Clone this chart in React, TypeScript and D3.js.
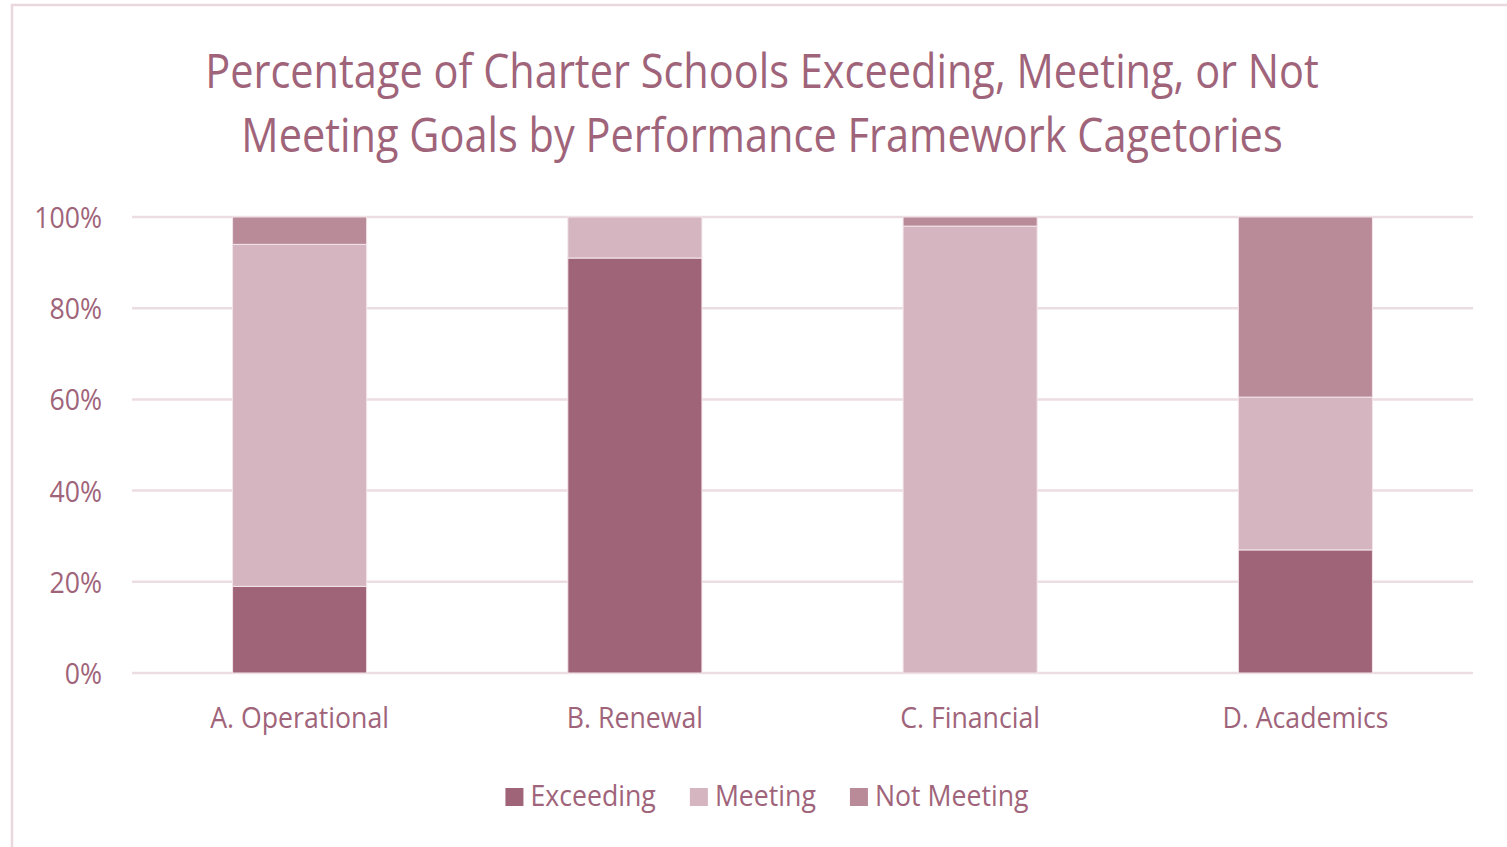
import * as d3 from 'd3';
import React from 'react';

// chart data
const categories = ['A. Operational', 'B. Renewal', 'C. Financial', 'D. Academics'];
const seriesNames = ['Exceeding', 'Meeting', 'Not Meeting'];
const exceeding = [0.19, 0.91, 0, 0.27];
const meeting = [0.75, 0.09, 0.98, 0.335];
const notMeeting = [0.06, 0, 0.02, 0.395];
const yTicks = [0, 0.2, 0.4, 0.6, 0.8, 1];
const titleLines = [
	'Percentage of Charter Schools Exceeding, Meeting, or Not',
	'Meeting Goals by Performance Framework Cagetories',
];

const width = 1507;
const height = 847;
const plot = { left: 132, right: 1473, top: 217, bottom: 673 };
const colors = ['#a06478', '#d5b5bf', '#b98b99'];
const textColor = '#a0647a';
const font = '"Open Sans", sans-serif';
const titleSqueeze = 0.865;
const squeeze = 0.92;

const measure = (txt: string, size: number) => {
	const ctx = document.createElement('canvas').getContext('2d');
	if (!ctx) return txt.length * size * 0.5;
	ctx.font = `${size}px "Open Sans"`;
	return ctx.measureText(txt).width * squeeze;
};

const App = () => {
	const rows = categories.map((c, i) => ({
		category: c,
		Exceeding: exceeding[i],
		Meeting: meeting[i],
		'Not Meeting': notMeeting[i],
	}));
	const stacked = d3.stack<any>().keys(seriesNames)(rows);

	const xScale = d3
		.scaleBand()
		.domain(categories)
		.range([plot.left, plot.right])
		.paddingInner(0.6)
		.paddingOuter(0.3);
	const yScale = d3.scaleLinear().domain([0, 1]).range([plot.bottom, plot.top]);

	// legend layout
	const legendSize = 29;
	const sq = 18;
	const items = seriesNames.map(n => ({ name: n, w: sq + 7 + measure(n, legendSize) }));
	const gap = 34;
	const total = d3.sum(items, d => d.w) + gap * (items.length - 1);
	let cursor = 767 - total / 2;
	const legendItems = items.map(it => {
		const x = cursor;
		cursor += it.w + gap;
		return { ...it, x };
	});

	return (
		<svg
			width={width}
			height={height}
			style={{ position: 'absolute', left: 0, top: 0, background: '#fff' }}
		>
			<rect x={12} y={5} width={width} height={height} fill="#fff" stroke="#ead8df" strokeWidth={2.5} />
			{titleLines.map((t, i) => (
				<text
					key={t}
					transform={`translate(762,${88 + i * 64}) scale(${titleSqueeze},1)`}
					textAnchor="middle"
					fontFamily={font}
					fontSize={48}
					fill={textColor}
				>
					{t}
				</text>
			))}
			{yTicks.map(t => (
				<g key={t}>
					<line
						x1={plot.left}
						x2={plot.right}
						y1={yScale(t)}
						y2={yScale(t)}
						stroke="#ecdde3"
						strokeWidth={2.5}
					/>
					<text
						transform={`translate(102,${yScale(t) + 11}) scale(${squeeze},1)`}
						textAnchor="end"
						fontFamily={font}
						fontSize={29}
						fill={textColor}
					>
						{d3.format('.0%')(t)}
					</text>
				</g>
			))}
			{stacked.map((s, si) => (
				<g key={s.key} fill={colors[si]}>
					{s.map(d => (
						<rect
							key={d.data.category}
							x={xScale(d.data.category)}
							y={yScale(d[1])}
							width={xScale.bandwidth()}
							height={yScale(d[0]) - yScale(d[1])}
							stroke="#f3e6eb"
							strokeWidth={d[1] - d[0] > 0 ? 1 : 0}
						/>
					))}
				</g>
			))}
			{categories.map(c => (
				<text
					key={c}
					transform={`translate(${(xScale(c) || 0) + xScale.bandwidth() / 2},728) scale(${squeeze},1)`}
					textAnchor="middle"
					fontFamily={font}
					fontSize={29}
					fill={textColor}
				>
					{c}
				</text>
			))}
			{legendItems.map((it, i) => (
				<g key={it.name} transform={`translate(${it.x},0)`}>
					<rect x={0} y={788} width={sq} height={sq} fill={colors[i]} />
					<text
						transform={`translate(${sq + 7},806) scale(${squeeze},1)`}
						fontFamily={font}
						fontSize={legendSize}
						fill={textColor}
					>
						{it.name}
					</text>
				</g>
			))}
		</svg>
	);
};

export default App;
